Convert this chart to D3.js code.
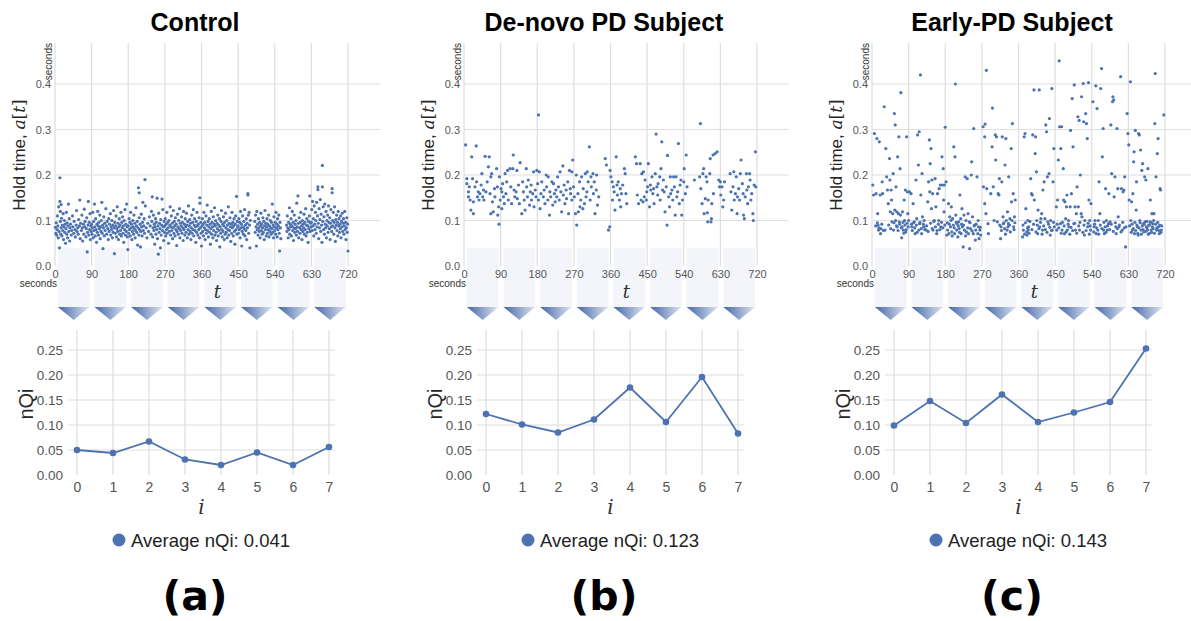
<!DOCTYPE html>
<html><head><meta charset="utf-8">
<script src="https://cdn.jsdelivr.net/npm/d3@7"></script>
<style>body{margin:0;background:#fff}svg{display:block}</style>
</head><body>
<svg id="chart" width="1191" height="621"></svg>
<script>
// ---------------- DATA ----------------
const titles = ["Control", "De-novo PD Subject", "Early-PD Subject"];
const panelLabels = ["(a)", "(b)", "(c)"];
const averageLabels = ["Average nQi: 0.041", "Average nQi: 0.123", "Average nQi: 0.143"];
const secondsTicks = [0, 90, 180, 270, 360, 450, 540, 630, 720];
const holdTicks = [0, 0.1, 0.2, 0.3, 0.4];
const segmentStarts = [0, 90, 180, 270, 360, 450, 540, 630];
const segmentLength = 90;
const nqiIndex = [0, 1, 2, 3, 4, 5, 6, 7];
const nqiTicks = [0, 0.05, 0.10, 0.15, 0.20, 0.25];
const controlNQi = [0.050, 0.044, 0.067, 0.031, 0.020, 0.045, 0.020, 0.056];
const deNovoNQi  = [0.122, 0.101, 0.085, 0.111, 0.175, 0.106, 0.196, 0.083];
const earlyNQi   = [0.099, 0.148, 0.104, 0.161, 0.106, 0.125, 0.146, 0.253];

// keystroke hold times: [time (s), hold (ms)]
const controlHold = [
[1,85],[2,72],[3,95],[4,68],[5,80],[6,110],[7,88],[8,62],[9,130],[10,76],[11,40],[12,194],[12,142],[13,120],[13,98],[14,70],[15,135],[15,84],[16,105],[17,66],[18,90],[19,78],[20,115],[21,58],[22,86],[23,100],[24,74],[25,92],[26,50],[27,82],[28,118],[29,70],[30,95],[31,62],[32,88],[33,136],[34,76],[35,104],[36,55],[37,84],[38,92],[40,68],[41,78],[43,110],[44,86],[46,72],[47,98],[49,80],[50,64],[52,90],[53,122],[54,76],[56,84],[57,70],[58,102],[60,88],[61,145],[62,60],[63,94],[65,78],[66,112],[67,84],[68,55],[70,92],[71,70],[72,125],[73,86],[74,98],[76,64],[77,82],[78,106],[79,31],[80,74],[81,90],[82,142],[83,68],[84,96],[85,80],[86,115],[87,58],[88,88],[89,76],
[90,92],[91,70],[92,84],[93,118],[94,62],[95,98],[96,78],[97,136],[98,86],[99,66],[100,104],[101,80],[102,52],[103,92],[104,74],[105,120],[106,88],[107,68],[108,96],[109,82],[110,112],[111,60],[112,86],[113,76],[114,100],[115,140],[116,72],[117,90],[118,38],[119,84],[120,108],[121,66],[122,94],[123,78],[125,126],[126,88],[127,70],[128,98],[130,82],[131,58],[132,104],[133,76],[134,92],[136,115],[137,68],[138,86],[139,80],[140,100],[141,62],[142,90],[143,74],[144,122],[145,84],[146,27],[147,96],[148,72],[149,88],[150,110],[151,64],[152,82],[153,130],[154,76],[155,94],[156,58],[157,86],[158,104],[159,70],[160,90],[161,78],[162,118],[163,66],[164,96],[165,84],[166,108],[167,72],[168,88],[169,52],[170,100],[171,80],[172,124],[173,68],[174,92],[175,76],[176,136],[177,86],[178,64],[179,36],
[180,88],[181,72],[182,104],[183,80],[184,96],[185,66],[186,118],[187,84],[188,92],[189,58],[190,76],[191,100],[192,86],[193,70],[194,112],[195,82],[196,94],[197,62],[198,78],[199,128],[200,88],[201,74],[202,98],[203,46],[204,84],[205,172],[206,68],[207,161],[207,106],[208,80],[209,92],[210,42],[211,76],[212,114],[213,86],[214,66],[215,96],[216,140],[217,78],[218,88],[219,104],[220,72],[221,190],[222,132],[224,84],[226,62],[228,94],[230,76],[232,108],[234,88],[236,70],[237,120],[238,98],[239,152],[240,64],[241,84],[242,112],[243,78],[244,92],[245,48],[246,86],[247,104],[248,70],[249,96],[250,80],[251,149],[252,60],[253,88],[254,26],[255,116],[256,74],[257,94],[258,82],[259,40],[260,102],[261,68],[262,90],[263,147],[264,78],[265,124],[266,86],[267,56],[268,98],[269,74],
[270,88],[271,104],[272,66],[273,92],[274,80],[275,118],[276,72],[277,96],[278,84],[279,50],[280,100],[281,76],[282,90],[283,130],[284,68],[285,86],[286,110],[287,78],[288,94],[289,60],[290,84],[291,122],[292,72],[293,98],[294,88],[295,66],[296,106],[297,80],[298,92],[299,45],[300,76],[301,114],[302,86],[303,70],[304,100],[305,82],[306,126],[307,62],[308,94],[309,78],[310,88],[311,108],[312,72],[313,96],[314,84],[315,56],[316,120],[317,80],[318,92],[319,68],[320,104],[321,86],[322,74],[323,116],[324,90],[325,62],[326,98],[327,80],[328,132],[329,70],[330,88],[331,102],[332,76],[333,94],[334,58],[335,84],[336,112],[337,72],[338,96],[339,80],[340,124],[341,66],[342,90],[343,104],[344,78],[345,86],[346,52],[347,98],[348,74],[349,118],[350,88],[351,68],[352,92],[353,80],[354,106],[355,62],[356,150],[356,138],[357,84],[358,96],[359,72],
[360,44],[361,88],[362,104],[363,76],[364,92],[365,66],[366,118],[367,84],[368,96],[369,58],[370,80],[371,110],[372,72],[373,90],[374,134],[375,78],[376,98],[377,64],[378,86],[379,104],[380,74],[381,92],[382,48],[383,82],[384,120],[385,70],[386,96],[387,86],[388,62],[389,108],[390,78],[391,92],[392,128],[393,68],[394,88],[395,100],[396,74],[397,56],[398,94],[399,82],[400,112],[401,66],[402,90],[403,78],[404,104],[405,42],[406,86],[407,72],[408,98],[409,122],[410,80],[411,64],[412,92],[413,76],[414,108],[415,88],[416,58],[417,96],[418,70],[419,116],[420,84],[421,74],[422,100],[423,62],[424,90],[425,80],[426,130],[427,68],[428,94],[429,78],[430,106],[431,86],[432,54],[433,92],[434,72],[435,118],[436,84],[437,96],[438,66],[439,88],[440,104],[441,76],[442,48],[443,92],[444,110],[445,80],[446,153],[447,70],[448,98],[449,86],
[450,88],[451,72],[452,104],[453,80],[454,96],[455,62],[456,120],[457,84],[458,92],[459,44],[460,76],[461,110],[462,86],[463,70],[464,98],[465,82],[466,124],[467,66],[468,90],[469,78],[470,104],[471,58],[472,94],[473,84],[474,159],[474,156],[475,112],[476,72],[477,118],[478,90],[479,40],[480,100],[491,98],[492,74],[493,112],[494,86],[495,44],[496,120],[497,80],[498,92],[499,68],[500,104],[501,84],[502,76],[503,96],[504,62],[505,88],[506,116],[507,78],[508,92],[509,70],[510,84],[511,106],[512,74],[513,98],[514,58],[515,88],[516,122],[517,80],[518,94],[519,66],[520,86],[521,104],[522,72],[523,92],[524,80],[525,112],[526,64],[527,88],[528,76],[529,100],[530,84],[531,70],[532,96],[533,82],[534,136],[535,74],[536,90],[537,62],[538,108],[539,86],
[540,78],[541,96],[542,70],[543,118],[544,84],[545,92],[546,64],[547,104],[548,80],[549,88],[550,112],[551,72],[552,33],[553,96],[554,84],[555,60],[569,90],[570,76],[571,110],[572,84],[573,62],[574,96],[575,80],[576,128],[577,70],[578,92],[579,86],[580,104],[581,66],[582,88],[583,120],[584,78],[585,96],[586,56],[587,84],[588,112],[589,74],[590,92],[591,82],[592,100],[593,68],[594,138],[595,86],[596,76],[597,154],[598,94],[599,62],[600,106],[601,84],[602,72],[603,96],[604,118],[605,80],[606,88],[607,58],[608,100],[609,76],[610,92],[611,84],[612,114],[613,70],[614,96],[615,80],[616,126],[617,66],[618,90],[619,104],[620,74],[621,88],[622,52],[623,98],[624,82],[625,110],[626,154],[627,76],[628,94],[629,86],
[630,96],[631,124],[632,78],[633,142],[634,88],[635,104],[636,66],[637,132],[638,92],[639,80],[640,118],[641,100],[642,72],[643,140],[644,86],[645,110],[646,168],[646,174],[647,94],[648,60],[649,126],[650,84],[651,102],[652,146],[653,76],[654,114],[655,90],[656,52],[657,221],[657,174],[658,98],[659,130],[660,80],[661,108],[662,70],[663,136],[664,92],[665,84],[666,120],[667,62],[668,100],[669,88],[670,112],[671,74],[672,132],[673,96],[674,82],[675,106],[676,58],[677,94],[678,124],[679,86],[680,76],[681,170],[681,161],[682,100],[683,88],[684,118],[685,70],[686,96],[687,130],[688,84],[689,54],[690,102],[691,90],[692,112],[693,78],[694,96],[695,66],[696,120],[697,88],[698,104],[699,74],[700,92],[701,82],[702,110],[703,62],[704,98],[705,86],[706,116],[707,76],[708,94],[709,104],[710,70],[711,88],[712,120],[713,80],[714,96],[715,58],[716,84],[717,106],[718,74],[719,92],[720,33]
];

const deNovoHold = [
[4,266],[7,181],[7,192],[11,163],[11,152],[15,145],[13,174],[17,123],[19,240],[21,192],[23,115],[23,141],[27,174],[30,264],[31,185],[33,152],[35,163],[37,145],[39,159],[42,178],[44,203],[46,152],[48,167],[49,145],[52,241],[54,163],[57,185],[60,218],[62,240],[64,159],[66,115],[66,196],[68,203],[70,141],[72,119],[75,170],[76,152],[80,214],[82,174],[83,112],[85,130],[86,92],[87,196],[89,145],
[91,170],[93,163],[93,126],[95,181],[97,152],[99,137],[101,203],[103,159],[105,185],[107,210],[109,145],[113,214],[115,174],[117,137],[120,214],[121,244],[123,167],[125,152],[128,163],[130,210],[131,148],[134,178],[136,137],[138,227],[142,115],[144,185],[146,163],[148,145],[150,123],[153,214],[154,174],[156,152],[158,189],[161,134],[163,163],[165,178],[166,145],[169,159],[171,207],[172,130],[175,167],[177,152],[179,210],
[181,181],[183,332],[183,145],[185,207],[187,126],[189,159],[191,185],[195,152],[197,167],[199,137],[202,200],[203,174],[206,145],[207,196],[210,112],[211,163],[213,152],[216,185],[218,134],[220,181],[222,159],[224,141],[226,167],[228,152],[230,196],[232,174],[234,145],[236,207],[238,163],[240,119],[243,220],[244,156],[246,178],[248,137],[251,167],[252,148],[255,185],[257,115],[259,210],[261,170],[262,159],[265,207],[265,145],[267,233],[269,174],
[271,152],[274,115],[276,200],[277,90],[280,159],[281,119],[284,185],[285,130],[287,145],[289,196],[292,126],[293,170],[296,137],[298,203],[300,152],[302,163],[303,207],[305,185],[308,262],[310,145],[312,196],[313,174],[317,203],[318,159],[320,185],[322,115],[325,167],[326,200],[328,134],[331,152],
[347,236],[350,222],[355,79],[358,86],[359,210],[361,196],[364,185],[365,145],[367,174],[369,163],[371,123],[374,240],[376,178],[377,156],[379,185],[382,145],[384,170],[385,130],[387,159],[390,178],[394,214],[396,203],[398,159],[400,137],
[421,240],[424,225],[426,156],[429,137],[433,225],[435,145],[437,203],[440,141],[441,207],[443,152],[445,189],[448,145],[449,163],
[451,174],[453,225],[456,130],[458,178],[459,167],[462,196],[464,159],[466,170],[467,137],[470,203],[472,290],[474,174],[476,156],[477,181],[481,196],[482,145],[484,214],[486,273],[488,167],[490,189],[492,163],[494,119],[497,174],[499,90],[500,243],[503,152],[505,130],[507,196],[508,159],[511,167],[513,145],[515,196],[517,174],[519,112],[521,196],[523,152],[525,163],[527,269],[529,137],[531,178],[533,189],[535,112],[537,145],
[540,185],[541,214],[544,159],[546,244],[548,174],[566,189],[579,196],[581,313],[582,170],[585,137],[587,203],[589,214],[590,115],[593,148],[595,196],[597,185],[598,117],[599,97],[600,145],[604,203],[605,236],[607,97],[608,104],[609,137],[612,244],[613,159],[617,247],[622,251],[626,189],[628,174],
[630,185],[631,156],[634,174],[636,130],[638,145],[640,185],[654,203],[656,163],[658,123],[661,174],[663,207],[664,145],[667,159],[669,196],[671,115],[672,152],[675,170],[677,145],[679,203],[681,233],[684,181],[686,159],[687,112],[689,104],[691,152],[694,203],[695,167],[697,137],[699,174],[702,203],[703,189],[705,145],[707,159],[710,115],[711,100],[713,178],[716,251],[717,174]
];

const earlyHold = [
[2,178],[4,156],[6,291],[9,88],[10,159],[12,280],[13,95],[14,115],[15,90],[16,79],[17,84],[18,273],[20,156],[21,71],[22,82],[24,92],[25,185],[26,159],[28,78],[30,350],[32,79],[34,258],[36,196],[38,167],[40,137],[41,90],[43,236],[44,189],[45,119],[46,82],[47,167],[48,145],[49,97],[51,115],[52,203],[53,79],[54,95],[55,335],[56,123],[57,310],[58,100],[59,174],[60,88],[61,119],[62,86],[63,240],[64,78],[65,115],[66,284],[67,97],[68,92],[69,214],[70,112],[71,381],[72,84],[73,62],[74,86],[75,119],[76,96],[77,79],[78,72],[79,145],[80,100],[81,90],[82,167],[83,75],[84,80],[85,284],[86,94],[87,163],[88,115],[89,86],[90,100],[92,163],
[96,159],[97,92],[98,86],[99,78],[101,137],[102,95],[104,97],[105,84],[106,71],[108,189],[109,90],[110,104],[111,74],[112,288],[114,222],[115,79],[116,295],[117,93],[118,96],[119,420],[120,156],[121,82],[122,71],[123,203],[124,108],[126,92],[127,86],[128,100],[130,80],[133,79],[134,88],[137,141],[138,76],[139,185],[141,277],[142,163],[143,225],[144,94],[145,258],[146,126],[147,189],[148,82],[149,159],[150,79],[152,98],[153,100],[155,192],[156,86],[157,130],[159,71],[160,78],[161,159],[163,92],[164,100],[165,170],[167,80],[168,178],[169,86],[171,96],[172,240],[173,178],[174,84],[175,214],[176,145],[177,119],[178,178],[179,90],[180,305],[182,185],
[184,68],[185,95],[186,79],[188,137],[189,71],[190,92],[191,108],[193,86],[194,100],[195,130],[196,75],[197,66],[198,104],[200,90],[201,262],[202,84],[203,71],[204,240],[205,400],[206,112],[207,96],[208,79],[209,93],[211,64],[212,88],[213,97],[214,82],[215,74],[216,156],[218,104],[219,71],[220,92],[221,126],[222,86],[224,42],[225,90],[226,112],[227,79],[229,196],[230,66],[231,100],[232,75],[234,192],[235,84],[236,115],[237,71],[239,97],[240,38],[241,95],[242,82],[244,200],[245,229],[246,77],[247,108],[249,71],[250,302],[251,88],[252,90],[254,57],[255,79],[256,92],[258,196],[260,71],[261,100],[262,86],[263,60],[265,79],[266,85],[267,68],
[273,306],[274,174],[277,284],[277,137],[278,312],[280,115],[281,430],[282,170],[285,93],[286,71],[292,159],[295,262],[296,347],[298,174],[300,100],[303,288],[304,233],[306,284],[308,97],[310,159],[312,156],[313,192],[314,90],[316,60],[317,86],[318,78],[319,185],[320,284],[322,108],[323,93],[324,95],[326,82],[327,222],[328,70],[329,280],[330,100],[332,79],[333,119],[334,86],[335,93],[336,196],[338,90],[339,104],[340,75],[342,258],[343,141],[344,100],[345,313],[347,159],[348,86],[349,80],[350,108],[351,95],[352,145],
[370,64],[371,90],[372,79],[374,284],[375,70],[376,291],[377,95],[378,126],[380,75],[381,68],[382,84],[383,100],[384,79],[385,86],[386,72],[388,98],[390,192],[392,159],[393,80],[394,156],[395,288],[397,92],[398,387],[399,145],[401,247],[402,284],[403,75],[404,207],[405,100],[406,90],[407,71],[408,123],[410,82],[411,387],[412,86],[414,96],[415,104],[417,115],[418,70],[419,79],[420,167],[422,88],[423,185],[425,104],[426,80],[427,310],[429,295],[430,74],[431,196],[432,97],[434,92],[435,203],[436,324],[437,85],[438,68],[439,100],[441,78],[442,390],[443,79],[445,185],[446,96],[447,258],[448,86],
[453,130],[454,79],[455,92],[456,145],[458,233],[459,84],[460,451],[461,306],[463,93],[464,258],[465,72],[466,306],[467,79],[468,96],[470,214],[471,145],[472,88],[473,71],[474,141],[476,104],[477,75],[478,130],[479,156],[480,79],[482,92],[483,100],[484,86],[486,70],[487,130],[488,298],[489,85],[490,159],[492,368],[493,78],[494,262],[496,93],[497,398],[498,94],[499,130],[500,79],[502,115],[503,72],[504,174],[506,328],[507,130],[508,88],[509,320],[510,79],[511,96],[512,200],[514,115],[515,372],[516,108],[518,74],[519,401],[520,317],[521,90],[522,68],[523,100],[525,335],[526,78],[527,313],[529,280],[530,86],[531,94],[532,403],[533,145],[534,70],[535,100],[536,88],[537,79],[538,137],
[543,361],[545,75],[546,86],[547,92],[548,100],[550,396],[551,71],[552,84],[553,346],[555,79],[556,100],[557,70],[558,185],[560,115],[561,90],[562,390],[564,434],[565,82],[566,240],[568,302],[569,79],[570,96],[571,71],[573,86],[574,170],[575,74],[576,100],[578,79],[579,88],[581,93],[582,159],[584,80],[585,97],[587,310],[588,92],[589,203],[591,361],[592,372],[593,76],[594,365],[595,152],[597,196],[598,95],[599,86],[600,71],[602,302],[603,82],[604,170],[605,108],[607,86],[608,90],[611,416],[612,75],[613,170],[615,79],[616,96],[617,163],[619,167],[620,84],[621,196],[623,42],[624,86],
[627,335],[629,291],[631,266],[632,145],[633,88],[635,405],[636,100],[637,74],[638,141],[639,92],[640,79],[641,159],[642,82],[643,229],[644,251],[645,71],[646,96],[647,298],[648,78],[649,123],[650,185],[651,90],[652,86],[653,72],[654,68],[655,291],[656,84],[657,288],[658,100],[659,95],[660,255],[661,79],[662,70],[663,210],[664,88],[665,225],[666,80],[667,93],[668,75],[669,92],[670,196],[671,97],[672,76],[673,189],[674,86],[675,98],[676,84],[677,79],[678,214],[679,70],[680,90],[681,71],[682,90],[683,97],[684,145],[685,96],[686,79],[687,74],[688,115],[689,86],[690,93],[691,82],[692,100],[693,115],[694,72],[695,313],[696,423],[697,92],[698,196],[699,79],[700,84],[701,247],[702,96],[703,280],[704,86],[705,78],[706,71],[707,90],[708,170],[709,167],[710,74],[711,79],[712,88],[717,332]
];

const holdSeries = [controlHold, deNovoHold, earlyHold];
const nqiSeries = [controlNQi, deNovoNQi, earlyNQi];

// ---------------- DRAWING ----------------
const BLUE = "#4c72b0", GRID = "#dedede", TICK = "#555", LABEL = "#262626";
const SANS = "'Liberation Sans', Arial, sans-serif";
const SERIF = "'DejaVu Serif', 'Liberation Serif', serif";
const svg = d3.select("#chart");
const offsets = [0, 409, 817];

const grad = svg.append("defs").append("linearGradient")
  .attr("id", "triGrad").attr("x1", "0%").attr("x2", "100%").attr("y1", "0%").attr("y2", "0%");
grad.append("stop").attr("offset", "0%").attr("stop-color", "#4266a8");
grad.append("stop").attr("offset", "100%").attr("stop-color", "#dfe5f2");

titles.forEach((title, k) => {
  const g = svg.append("g").attr("transform", `translate(${offsets[k]},0)`);

  // ---- scatter of hold times ----
  const x = d3.scaleLinear().domain([0, 720]).range([55, 348]);
  const y = d3.scaleLinear().domain([0, 0.4]).range([266, 84]);
  const xRight = x(798), yTop = y(0.49);

  // segment windows (light boxes + gradient arrows)
  g.selectAll("rect.seg").data(segmentStarts).join("rect").attr("class", "seg")
    .attr("x", d => x(d + 7)).attr("width", d => x(d + segmentLength - 5) - x(d + 7))
    .attr("y", y(0.04)).attr("height", 307 - y(0.04)).attr("fill", "#f3f5fa");
  g.selectAll("path.tri").data(segmentStarts).join("path").attr("class", "tri")
    .attr("d", d => { const a = x(d + 7), b = x(d + segmentLength - 5); return `M${a},307L${b},307L${(a + b) / 2},320Z`; })
    .attr("fill", "url(#triGrad)");

  // grid
  g.selectAll("line.vg").data(secondsTicks).join("line").attr("class", "vg")
    .attr("x1", d => x(d)).attr("x2", d => x(d)).attr("y1", yTop).attr("y2", y(0))
    .attr("stroke", GRID).attr("stroke-width", 1.2);
  g.selectAll("line.hg").data(holdTicks.filter(d => d > 0)).join("line").attr("class", "hg")
    .attr("x1", x(0)).attr("x2", xRight).attr("y1", d => y(d)).attr("y2", d => y(d))
    .attr("stroke", GRID).attr("stroke-width", 1.2);

  // points
  g.append("g").selectAll("circle").data(holdSeries[k]).join("circle")
    .attr("cx", d => x(d[0])).attr("cy", d => y(d[1] / 1000)).attr("r", 1.6).attr("fill", BLUE);

  // axes
  g.append("g").attr("transform", `translate(${x(0)},0)`)
    .call(d3.axisLeft(y).tickValues(holdTicks).tickFormat(d3.format(".1f")).tickSize(0).tickPadding(4))
    .call(s => s.select(".domain").remove())
    .attr("font-family", SANS).attr("font-size", 11)
    .selectAll("text").attr("fill", TICK);
  g.append("g").attr("transform", `translate(0,${y(0)})`)
    .call(d3.axisBottom(x).tickValues(secondsTicks).tickFormat(d3.format("d")).tickSize(0).tickPadding(4))
    .call(s => s.select(".domain").remove())
    .attr("font-family", SANS).attr("font-size", 11)
    .selectAll("text").attr("fill", TICK);

  g.append("text").attr("x", 57).attr("y", 287).attr("text-anchor", "end")
    .attr("font-family", SANS).attr("font-size", 10).attr("fill", "#333").text("seconds");
  g.append("text").attr("transform", `translate(51.5,${yTop}) rotate(-90)`).attr("text-anchor", "end")
    .attr("font-family", SANS).attr("font-size", 10).attr("fill", "#333").text("seconds");

  const yl = g.append("text").attr("transform", "translate(25,155) rotate(-90)").attr("text-anchor", "middle")
    .attr("font-family", SANS).attr("font-size", 17).attr("fill", LABEL);
  yl.append("tspan").text("Hold time, ");
  yl.append("tspan").attr("font-family", SERIF).attr("font-style", "italic").text("a");
  yl.append("tspan").attr("font-family", SERIF).text("[");
  yl.append("tspan").attr("font-family", SERIF).attr("font-style", "italic").text("t");
  yl.append("tspan").attr("font-family", SERIF).text("]");

  g.append("text").attr("x", (x(0) + xRight) / 2).attr("y", 298).attr("text-anchor", "middle")
    .attr("font-family", SERIF).attr("font-style", "italic").attr("font-size", 18).attr("fill", "#333").text("t");

  // title
  g.append("text").attr("x", 195).attr("y", 31).attr("text-anchor", "middle")
    .attr("font-family", SANS).attr("font-weight", "bold").attr("font-size", 25).attr("fill", "#000").text(title);

  // ---- nQi line chart ----
  const x2 = d3.scaleLinear().domain([0, 7]).range([77, 329]);
  const y2 = d3.scaleLinear().domain([0, 0.25]).range([475, 350]);
  const gl = x2(-0.25), gr = x2(7.17);

  g.selectAll("line.vg2").data(nqiIndex).join("line").attr("class", "vg2")
    .attr("x1", d => x2(d)).attr("x2", d => x2(d)).attr("y1", y2(0.29)).attr("y2", y2(0))
    .attr("stroke", GRID).attr("stroke-width", 1.2);
  g.selectAll("line.hg2").data(nqiTicks.filter(d => d > 0)).join("line").attr("class", "hg2")
    .attr("x1", gl).attr("x2", gr).attr("y1", d => y2(d)).attr("y2", d => y2(d))
    .attr("stroke", GRID).attr("stroke-width", 1.2);

  g.append("g").attr("transform", `translate(${gl},0)`)
    .call(d3.axisLeft(y2).tickValues(nqiTicks).tickFormat(d3.format(".2f")).tickSize(0).tickPadding(5))
    .call(s => s.select(".domain").remove())
    .attr("font-family", SANS).attr("font-size", 13.5)
    .selectAll("text").attr("fill", TICK);
  g.append("g").attr("transform", `translate(0,${y2(0)})`)
    .call(d3.axisBottom(x2).tickValues(nqiIndex).tickFormat(d3.format("d")).tickSize(0).tickPadding(7))
    .call(s => s.select(".domain").remove())
    .attr("font-family", SANS).attr("font-size", 14)
    .selectAll("text").attr("fill", TICK);

  const vals = nqiSeries[k];
  g.append("path").datum(vals)
    .attr("d", d3.line().x((d, i) => x2(nqiIndex[i])).y(d => y2(d)))
    .attr("fill", "none").attr("stroke", BLUE).attr("stroke-width", 1.8);
  g.selectAll("circle.m").data(vals).join("circle").attr("class", "m")
    .attr("cx", (d, i) => x2(nqiIndex[i])).attr("cy", d => y2(d)).attr("r", 3.3).attr("fill", BLUE);

  g.append("text").attr("transform", "translate(33,404) rotate(-90)").attr("text-anchor", "middle")
    .attr("font-family", SANS).attr("font-size", 20).attr("fill", LABEL).text("nQi");
  g.append("text").attr("x", (gl + gr) / 2).attr("y", 514).attr("text-anchor", "middle")
    .attr("font-family", SERIF).attr("font-style", "italic").attr("font-size", 20).attr("fill", "#333").text("i");

  // legend
  g.append("circle").attr("cx", 119).attr("cy", 540).attr("r", 6.5).attr("fill", BLUE);
  g.append("text").attr("x", 131).attr("y", 546.5).attr("font-family", SANS).attr("font-size", 18.5)
    .attr("fill", "#222").text(averageLabels[k]);

  // panel label
  g.append("text").attr("x", 195).attr("y", 610).attr("text-anchor", "middle")
    .attr("font-family", "'DejaVu Sans', sans-serif").attr("font-weight", "bold").attr("font-size", 41)
    .attr("fill", "#000").text(panelLabels[k]);
});
</script>
</body></html>
